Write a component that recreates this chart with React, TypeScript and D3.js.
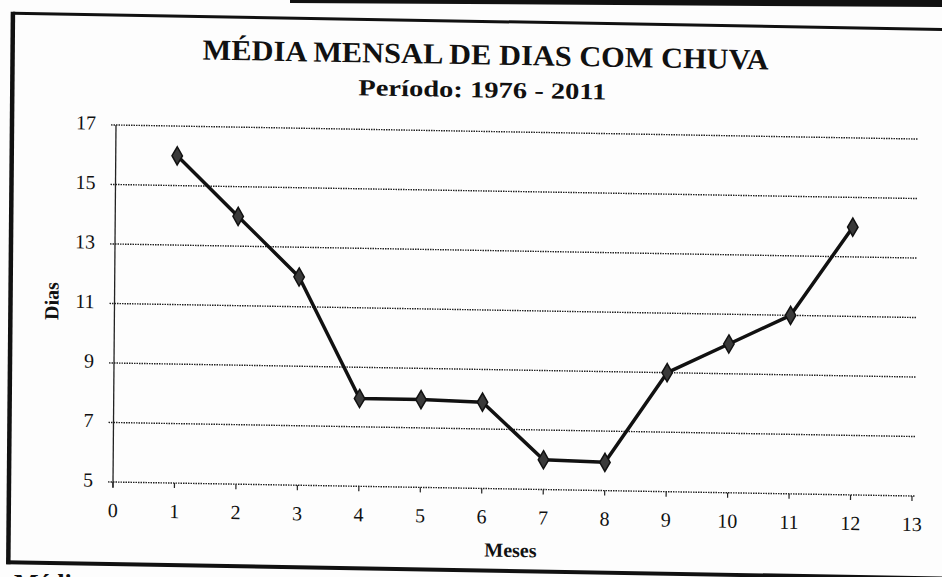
import React from "react";
import * as d3 from "d3";

const months = [1, 2, 3, 4, 5, 6, 7, 8, 9, 10, 11, 12];
const rainyDays = [16, 14, 12, 7.95, 7.95, 7.9, 6.0, 5.95, 9.0, 10.0, 11.0, 14.0];
const yTicks = [5, 7, 9, 11, 13, 15, 17];
const xTicks = [0, 1, 2, 3, 4, 5, 6, 7, 8, 9, 10, 11, 12, 13];
const titleText = "MÉDIA MENSAL DE DIAS COM CHUVA";
const subtitleText = "Período: 1976 - 2011";
const yLabel = "Dias";
const xLabel = "Meses";

const W = 942;
const H = 577;
const left = 116;
const right = 915;
const top = 125;
const bottom = 482;
const skewA = -0.0084;
const skewB = 0.0175;

export default function App() {
  const x = d3.scaleLinear().domain([0, 13]).range([left, right]);
  const y = d3.scaleLinear().domain([5, 17]).range([bottom, top]);
  const line = d3
    .line<number>()
    .x((_, i) => x(months[i]))
    .y((d) => y(d));
  const diamond = d3.symbol().type(d3.symbolDiamond).size(95)();
  const serif = "'Liberation Serif', 'Times New Roman', serif";
  const tf = `matrix(1,${skewB},${skewA},1,${-skewA * top},${-skewB * left})`;

  return (
    <svg
      width={W}
      height={H}
      style={{ position: "absolute", left: 0, top: 0, background: "#fff" }}
      fontFamily={serif}
    >
      <rect x={0} y={0} width={W} height={H} fill="#fdfdfd" />
      <path d="M290,0 L942,0 L942,7 L290,3 Z" fill="#111" />
      <g transform={tf}>
        {/* frame */}
        <line x1={12} y1={15} x2={960} y2={15} stroke="#111" strokeWidth={3} />
        <line x1={12} y1={13.5} x2={12} y2={566} stroke="#111" strokeWidth={4.5} />
        <line x1={10} y1={564} x2={960} y2={564} stroke="#111" strokeWidth={4} />

        {/* titles */}
        <text
          x={485}
          y={58}
          textAnchor="middle"
          fontSize={29}
          fontWeight="bold"
          fill="#111"
          textLength={566}
          lengthAdjust="spacingAndGlyphs"
        >
          {titleText}
        </text>
        <text
          x={482}
          y={91}
          textAnchor="middle"
          fontSize={23}
          fontWeight="bold"
          fill="#111"
          textLength={248}
          lengthAdjust="spacingAndGlyphs"
        >
          {subtitleText}
        </text>

        {/* gridlines */}
        {yTicks.map((t) => (
          <line
            key={"g" + t}
            x1={left - 5}
            x2={right + 3}
            y1={y(t)}
            y2={y(t)}
            stroke="#222"
            strokeWidth={1.4}
            strokeDasharray="1.5,1"
          />
        ))}
        {/* y axis */}
        <line x1={left} x2={left} y1={top} y2={bottom + 6} stroke="#222" strokeWidth={1.3} />
        {yTicks.map((t) => (
          <text
            key={"yl" + t}
            x={96}
            y={y(t) + 5}
            textAnchor="end"
            fontSize={20}
            fill="#111"
          >
            {t}
          </text>
        ))}
        {/* x ticks */}
        {xTicks.map((t) => (
          <g key={"xt" + t}>
            <line x1={x(t)} x2={x(t)} y1={bottom} y2={bottom + 5} stroke="#222" strokeWidth={1.2} />
            <text x={x(t)} y={bottom + 35} textAnchor="middle" fontSize={20} fill="#111">
              {t}
            </text>
          </g>
        ))}

        {/* axis titles */}
        <text
          transform={`translate(${60},${302}) rotate(-90)`}
          textAnchor="middle"
          fontSize={20}
          fontWeight="bold"
          fill="#111"
        >
          {yLabel}
        </text>
        <text x={514} y={550} textAnchor="middle" fontSize={20} fontWeight="bold" fill="#111">
          {xLabel}
        </text>

        {/* series */}
        <path
          d={line(rainyDays) || ""}
          fill="none"
          stroke="#111"
          strokeWidth={3.5}
          strokeLinejoin="round"
        />
        {rainyDays.map((v, i) => (
          <path
            key={"m" + i}
            d={diamond || ""}
            transform={`translate(${x(months[i])},${y(v)})`}
            fill="#3a3a3a"
            stroke="#111"
            strokeWidth={1.5}
          />
        ))}
      </g>
      <text x={14} y={592} fontSize={26} fontWeight="bold" fill="#111" fontFamily={serif}>
        Média
      </text>
    </svg>
  );
}
